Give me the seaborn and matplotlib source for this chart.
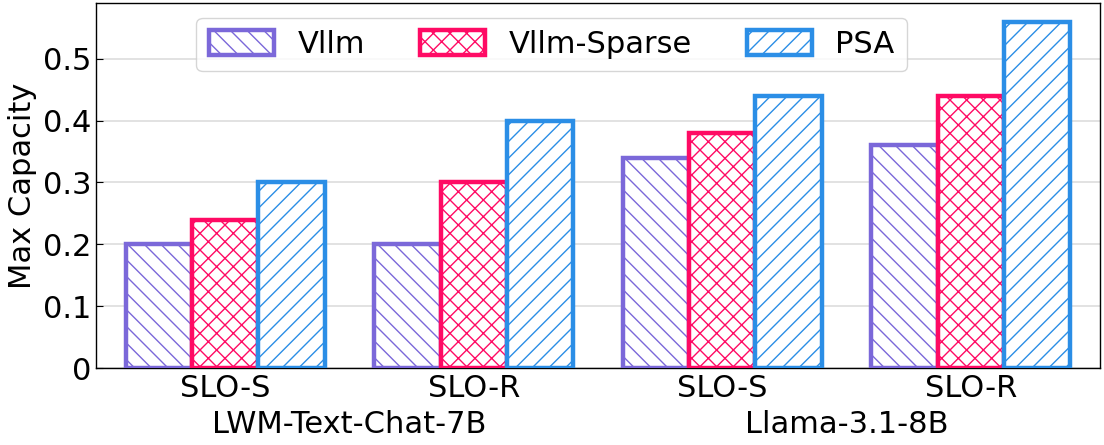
import matplotlib
matplotlib.use('Agg')
import matplotlib.pyplot as plt
import pandas as pd
import seaborn as sns
from matplotlib.ticker import FuncFormatter

# Data
settings = ['SLO-S', 'SLO-R', 'SLO-S ', 'SLO-R ']
models = ['LWM-Text-Chat-7B', 'Llama-3.1-8B']
methods = ['Vllm', 'Vllm-Sparse', 'PSA']
vllm = [0.20, 0.20, 0.34, 0.36]
vllm_sparse = [0.24, 0.30, 0.38, 0.44]
psa = [0.30, 0.40, 0.44, 0.56]

colors = ['#7b68d9', '#ff0a64', '#2b8ee6']
hatches = ['\\\\', 'xx', '//']


def main():
    df = pd.DataFrame({
        'setting': settings * 3,
        'method': [m for m in methods for _ in settings],
        'capacity': vllm + vllm_sparse + psa,
    })

    sns.set_style('white')
    plt.rcParams['font.family'] = ['DejaVu Sans']
    plt.rcParams['hatch.linewidth'] = 1.0
    plt.rcParams['text.color'] = 'black'
    plt.rcParams['axes.labelcolor'] = 'black'
    plt.rcParams['xtick.color'] = 'black'
    plt.rcParams['ytick.color'] = 'black'

    fig = plt.figure(figsize=(11.04, 4.45), dpi=100)
    ax = fig.add_axes([0.087, 0.173, 0.9095, 0.82])

    sns.barplot(data=df, x='setting', y='capacity', hue='method',
                order=settings, hue_order=methods, palette=colors,
                width=0.8, legend=False, ax=ax, zorder=3)

    for cont, col, h in zip(ax.containers, colors, hatches):
        for bar in cont:
            bar.set_facecolor('white')
            bar.set_edgecolor(col)
            bar.set_hatch(h)
            bar.set_linewidth(3.2)

    ax.set_xlim(-0.52, 3.52)
    ax.set_ylim(0, 0.59)
    ax.set_yticks([0, 0.1, 0.2, 0.3, 0.4, 0.5])
    ax.yaxis.set_major_formatter(FuncFormatter(lambda v, _: f'{v:g}'))
    ax.yaxis.grid(True, color='#dddddd', linewidth=1.2, zorder=0)
    ax.set_axisbelow(True)

    ax.set_xlabel('')
    ax.set_ylabel('Max Capacity', fontsize=22)
    ax.set_xticks(range(len(settings)))
    ax.set_xticklabels([s.strip() for s in settings], fontsize=22)
    ax.tick_params(axis='y', labelsize=22, direction='in', length=5, left=True)
    ax.tick_params(axis='x', length=0, pad=4)

    for sp in ax.spines.values():
        sp.set_visible(True)
        sp.set_color('black')
        sp.set_linewidth(1.0)

    # model names under each pair of settings
    for i, name in enumerate(models):
        ax.text(2 * i + 0.5, -0.115, name, fontsize=22, ha='center', va='top',
                transform=ax.get_xaxis_transform())

    ax.legend(ax.containers, methods, fontsize=22, ncol=3,
              loc='upper left', bbox_to_anchor=(0.1, 0.96), borderaxespad=0,
              handlelength=2.15, handleheight=0.85, handletextpad=0.75,
              columnspacing=1.8, frameon=True, edgecolor='#cccccc',
              fancybox=True, borderpad=0.4)

    fig.savefig('out.png', dpi=100)


if __name__ == '__main__':
    main()
